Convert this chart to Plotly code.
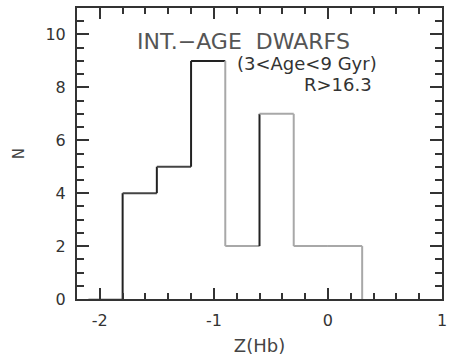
import plotly.graph_objects as go

# Data
bin_edges = [-1.8, -1.5, -1.2, -0.9, -0.6, -0.3, 0.0, 0.3]
counts = [4, 5, 9, 2, 7, 2, 2]
x_ticks = [-2, -1, 0, 1]
x_ticklabels = ["-2", "-1", "0", "1"]
y_ticks = [0, 2, 4, 6, 8, 10]
y_ticklabels = ["0", "2", "4", "6", "8", "10"]

BLACK = "#222222"
GRAY = "#a8a8a8"
DARK = "#444444"

fig = go.Figure()

def seg(x0, y0, x1, y1, color):
    fig.add_trace(go.Scatter(x=[x0, x1], y=[y0, y1], mode="lines",
                             line=dict(color=color, width=2), showlegend=False,
                             hoverinfo="skip"))

# faint baseline left of histogram
seg(-2.1, 0, bin_edges[0], 0, "#cccccc")

prev = 0
for i, c in enumerate(counts):
    x0, x1 = bin_edges[i], bin_edges[i + 1]
    left_part = x1 <= -0.9 + 1e-9
    vcol = BLACK if c > prev else GRAY
    seg(x0, prev, x0, c, vcol)
    hcol = (BLACK if c == max(counts) else DARK) if left_part else GRAY
    seg(x0, c, x1, c, hcol)
    prev = c
seg(bin_edges[-1], prev, bin_edges[-1], 0, GRAY)

font = "DejaVu Sans, Arial, sans-serif"
fig.add_annotation(x=-0.74, y=9.73, text="INT.\u2212AGE&nbsp;&nbsp;DWARFS", showarrow=False,
                   font=dict(family=font, size=22, color="#555555"), xanchor="center", yanchor="middle")
fig.add_annotation(x=-0.18, y=8.92, text="(3<Age<9 Gyr)", showarrow=False,
                   font=dict(family=font, size=18, color="#333333"), xanchor="center", yanchor="middle")
fig.add_annotation(x=0.40, y=8.09, text="R>16.3", showarrow=False,
                   font=dict(family=font, size=18, color="#333333"), xanchor="right", yanchor="middle")

axis_common = dict(showline=True, linecolor="#333333", linewidth=2, mirror="allticks",
                   ticks="inside", tickcolor="#333333", tickwidth=2, showgrid=False,
                   zeroline=False, tickfont=dict(family=font, size=16, color="#333333"))

fig.update_xaxes(range=[-2.2, 1.0], tickvals=x_ticks, ticktext=x_ticklabels, ticklen=11,
                 ticklabelstandoff=6,
                 minor=dict(dtick=0.2, tick0=0, ticklen=6, ticks="inside", tickcolor="#333333", tickwidth=2, showgrid=False),
                 title=dict(text="Z(Hb)", font=dict(family=font, size=18, color="#444444"), standoff=10),
                 **axis_common)
fig.update_yaxes(range=[0, 11], tickvals=y_ticks, ticktext=y_ticklabels, ticklen=12,
                 ticklabelstandoff=6,
                 minor=dict(dtick=0.5, tick0=0, ticklen=7, ticks="inside", tickcolor="#333333", tickwidth=2, showgrid=False),
                 title=dict(text="N", font=dict(family=font, size=15, color="#444444"), standoff=17),
                 **axis_common)

fig.update_layout(width=452, height=360, margin=dict(l=77, r=5, t=8, b=61),
                  plot_bgcolor="white", paper_bgcolor="white")

fig.write_html("out.html")
